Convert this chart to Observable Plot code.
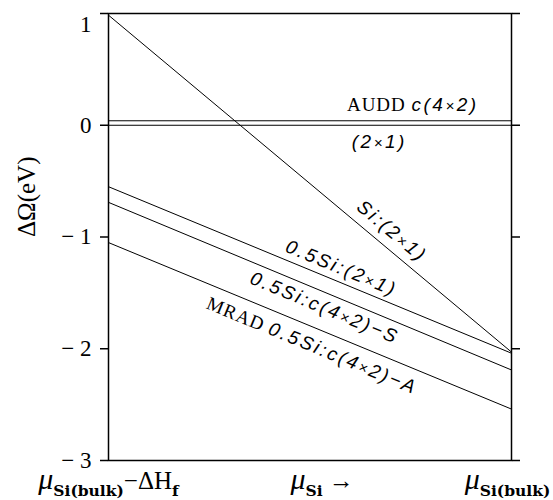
<!DOCTYPE html>
<html><head><meta charset="utf-8">
<script src="https://cdn.jsdelivr.net/npm/d3@7"></script>
<script src="https://cdn.jsdelivr.net/npm/@observablehq/plot@0.6"></script>
<style>body{margin:0;background:#fff}</style>
</head><body><div id="chart"></div>
<script>
// ---- data ----
const seriesNames = ["Si:(2×1)", "0.5Si:(2×1)", "0.5Si:c(4×2)−S", "MRAD 0.5Si:c(4×2)−A", "AUDD c(4×2)", "(2×1)"];
const omegaAtLowMu = [0.985, -0.55, -0.69, -1.05, 0.04, 0];
const omegaAtBulk  = [-2.03, -2.04, -2.19, -2.54, 0.04, 0];
const muEnds = [0, 1];
const yTickValues = [-3, -2, -1, 0, 1];
const xTickValues = [0, 0.53, 0.99];
const xTickLabels = ["μ_{Si(bulk)}−ΔH_{f}", "μ_{Si} →", "μ_{Si(bulk)}"];
const yLabel = "ΔΩ(eV)";

// ---- layout ----
const W = 553, H = 500, mL = 108, mR = 42, mT = 13, mB = 40;
const plotW = W - mL - mR, plotH = H - mT - mB, ySpan = 4;
// label placement: fraction along x and perpendicular offset (px)
const labelPlace = [
  {t: 0.678, d: 16},
  {t: 0.565, d: 13.6},
  {t: 0.55, d: -14.5},
  {t: 0.522, d: -17.5},
  {t: 0.755, d: 16},
  {t: 0.672, d: -17}
];

const lineData = seriesNames.flatMap((name, i) =>
  muEnds.map((mu, j) => ({name, mu, omega: j === 0 ? omegaAtLowMu[i] : omegaAtBulk[i]})));

const serif = "Liberation Serif, Times New Roman, serif";
const sans = "Liberation Sans, Arial, sans-serif";

const labelMarks = seriesNames.map((name, i) => {
  const y0 = omegaAtLowMu[i], y1 = omegaAtBulk[i];
  const a = Math.atan((y0 - y1) * plotH / ySpan / plotW);
  const {t, d} = labelPlace[i];
  return Plot.text([name], {
    x: () => t,
    y: () => y0 + t * (y1 - y0),
    text: d => d,
    rotate: a * 180 / Math.PI,
    dx: d * Math.sin(a),
    dy: -d * Math.cos(a),
    fontSize: 19,
    fontFamily: sans,
    fill: "black"
  });
});

const fmt = v => v < 0 ? "− " + Math.abs(v) : String(v);

const chart = Plot.plot({
  width: W, height: H,
  marginLeft: mL, marginRight: mR, marginTop: mT, marginBottom: mB,
  x: {domain: [0, 1], axis: null},
  y: {domain: [-3, 1], label: null},
  style: {background: "white", color: "black"},
  marks: [
    Plot.axisY(yTickValues, {anchor: "left", tickSize: 8, fill: "none", strokeWidth: 1.5, label: null}),
    Plot.axisY(yTickValues, {anchor: "right", tickSize: 8, fill: "none", strokeWidth: 1.5, label: null}),
    Plot.line(lineData, {x: "mu", y: "omega", z: "name", stroke: "black", strokeWidth: 1}),
    Plot.frame({stroke: "black", strokeWidth: 1.5}),
    Plot.text(yTickValues.filter(v => v < 1), {y: d => d, frameAnchor: "left", dx: -17, textAnchor: "end", text: fmt, fontSize: 23, fontFamily: serif, fill: "black"}),
    Plot.text(yTickValues.filter(v => v >= 1), {y: d => d, frameAnchor: "left", dx: -17, dy: 11, textAnchor: "end", text: fmt, fontSize: 23, fontFamily: serif, fill: "black"}),
    Plot.text([yLabel], {frameAnchor: "left", dx: -82, rotate: -90, fontSize: 25, fontFamily: serif, fill: "black"}),
    Plot.text(xTickLabels, {x: (d, i) => xTickValues[i], frameAnchor: "bottom", dy: 28, text: d => d, fontSize: 24, fontFamily: serif, fill: "black"}),
    ...labelMarks
  ]
});

// ---- rich text post-processing ----
function richMath(el) {
  const s = el.textContent;
  const sel = d3.select(el);
  sel.text(null);
  let shift = 0;
  const re = /_\{([^}]*)\}/g;
  let last = 0, m;
  const addMain = str => {
    for (const part of str.split(/(μ)/)) {
      if (!part) continue;
      const ts = sel.append("tspan").text(part).attr("dy", -shift);
      shift = 0;
      if (part === "μ") ts.attr("font-style", "italic").attr("font-size", 30);
      else ts.attr("font-size", 25);
    }
  };
  const addSub = str => {
    sel.append("tspan").text(str).attr("dy", 7 - shift).attr("font-size", 15.5)
      .attr("font-weight", "bold").attr("font-family", "DejaVu Serif, serif");
    shift = 7;
  };
  while ((m = re.exec(s))) {
    if (m.index > last) addMain(s.slice(last, m.index));
    addSub(m[1]);
    last = re.lastIndex;
  }
  if (last < s.length) addMain(s.slice(last));
}
function richLabel(el) {
  const s = el.textContent;
  const sel = d3.select(el);
  sel.text(null);
  const m = s.match(/^(AUDD|MRAD)\s(.*)$/);
  let rest = s;
  if (m) {
    sel.append("tspan").text(m[1] + " ").attr("font-family", serif).attr("font-size", 19).attr("letter-spacing", "1px");
    rest = m[2];
  }
  for (const part of rest.split(/(×)/)) {
    if (!part) continue;
    const ts = sel.append("tspan").text(part).attr("font-style", "italic").attr("letter-spacing", "2.5px");
    if (part === "×") ts.attr("font-size", 15);
  }
}
d3.select(chart).selectAll("text").each(function() {
  const s = this.textContent;
  if (xTickLabels.includes(s)) richMath(this);
  else if (seriesNames.includes(s)) richLabel(this);
});

document.getElementById("chart").appendChild(chart);
</script>
</body></html>
